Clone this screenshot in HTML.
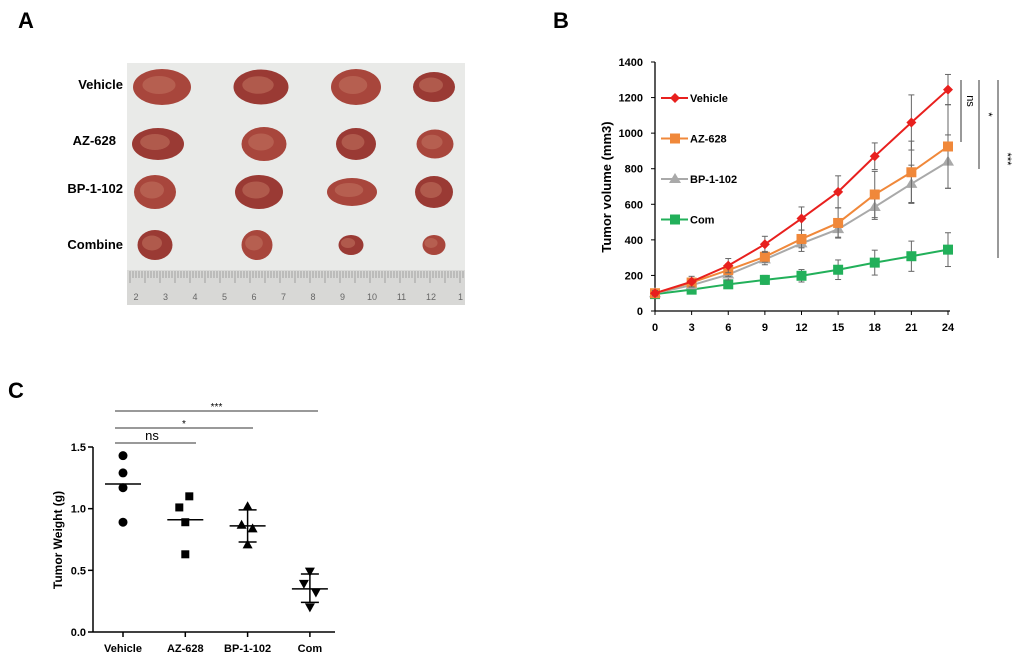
<!DOCTYPE html>
<html><head><meta charset="utf-8"><style>
body{margin:0;background:#fff;width:1020px;height:661px;overflow:hidden;font-family:"Liberation Sans",Arial,sans-serif}
svg{position:absolute;left:0;top:0}
</style></head><body>
<svg width="1020" height="661" viewBox="0 0 1020 661" id="fig">
<text x="18" y="28" font-size="22" font-weight="bold">A</text>
<text x="553" y="28" font-size="22" font-weight="bold">B</text>
<text x="8" y="398" font-size="22" font-weight="bold">C</text>
<g>
<rect x="127" y="63" width="338" height="242" fill="#e9eae8"/>
<rect x="127" y="270" width="338" height="35" fill="#d8d8d6"/>
<g id="ruler" stroke="#888" stroke-width="0.7"></g>
<g id="tumors"></g>
</g>
<g font-size="13" font-weight="bold" text-anchor="end">
<text x="123" y="89">Vehicle</text><text x="116" y="145">AZ-628</text><text x="123" y="193">BP-1-102</text><text x="123" y="249">Combine</text>
</g>
<g id="chartB"></g>
<g id="chartC"></g>
</svg>
<script>
const NS="http://www.w3.org/2000/svg";
function mk(p,t,a,txt){const e=document.createElementNS(NS,t);for(const k in a)e.setAttribute(k,a[k]);if(txt!==undefined)e.textContent=txt;p.appendChild(e);return e;}
// photo
const tumorX=[[162,261,356,434],[158,264,356,435],[155,259,352,434],[155,257,351,434]];
const tumorY=[87,144,192,245];
const tumorW=[[58,55,50,42],[52,45,40,37],[42,48,50,38],[35,31,25,23]];
const tumorH=[[36,35,36,30],[32,34,32,29],[34,34,28,32],[30,30,20,20]];
const tg=document.getElementById('tumors');
for(let r=0;r<4;r++)for(let c=0;c<4;c++){
 const e=mk(tg,'ellipse',{cx:tumorX[r][c],cy:tumorY[r],rx:tumorW[r][c]/2,ry:tumorH[r][c]/2,fill:(r+c)%2?'#9a3a34':'#a8463c'});
 
 mk(tg,'ellipse',{cx:tumorX[r][c]-3,cy:tumorY[r]-2,rx:tumorW[r][c]/3.5,ry:tumorH[r][c]/4,fill:'#c0705e',opacity:0.6});
}
const rg=document.getElementById('ruler');
for(let i=0;i<112;i++){const x=130+i*3;mk(rg,'line',{x1:x,y1:271,x2:x,y2:i%5==0?283:278});}
const rulerNums=[2,3,4,5,6,7,8,9,10,11,12,1];
rulerNums.forEach((n,i)=>{const t=mk(rg,'text',{x:136+i*29.5,y:300,'font-size':9,fill:'#666',stroke:'none','text-anchor':'middle'},n);});

// Chart B
const days=[0,3,6,9,12,15,18,21,24];
const vehicle=[100,165,255,375,520,670,870,1060,1245];
const az628=[100,160,230,305,405,495,655,780,925];
const bp1102=[100,145,205,290,380,460,585,715,840];
const com=[95,120,150,175,198,232,272,308,345];
const vehicleErr=[15,30,40,45,65,90,75,155,85];
const az628Err=[12,25,35,30,50,85,130,175,235];
const bp1102Err=[10,20,30,30,45,45,70,105,150];
const comErr=[8,10,15,25,35,55,70,85,95];
const yTicksB=[0,200,400,600,800,1000,1200,1400];
const B=document.getElementById('chartB');
const bx=v=>655+v/24*293, by=v=>311-v/1400*249;
mk(B,'line',{x1:655,y1:62,x2:655,y2:311,stroke:'#000','stroke-width':1.3});
mk(B,'line',{x1:655,y1:311,x2:950,y2:311,stroke:'#000','stroke-width':1.3});
yTicksB.forEach(v=>{mk(B,'line',{x1:651,y1:by(v),x2:655,y2:by(v),stroke:'#000'});
 const t=mk(B,'text',{x:643,y:by(v)+4,'font-size':11,'font-weight':'bold','text-anchor':'end'},v);});
days.forEach(d=>{mk(B,'line',{x1:bx(d),y1:311,x2:bx(d),y2:315,stroke:'#000'});
 const t=mk(B,'text',{x:bx(d),y:331,'font-size':11,'font-weight':'bold','text-anchor':'middle'},d);});
const yt=mk(B,'text',{x:611,y:187,'font-size':13,'font-weight':'bold','text-anchor':'middle',transform:'rotate(-90 611 187)'},'Tumor volume (mm3)');

const series=[[com,comErr,'#22b05a','sq'],[bp1102,bp1102Err,'#a9a9a9','tri'],[az628,az628Err,'#f0883a','sq'],[vehicle,vehicleErr,'#e8201e','dia']];
series.forEach(([vals,errs,col,shape])=>{
 vals.forEach((v,i)=>{const x=bx(days[i]);mk(B,'line',{x1:x,y1:by(v-errs[i]),x2:x,y2:by(v+errs[i]),stroke:'#666'});
  mk(B,'line',{x1:x-3,y1:by(v+errs[i]),x2:x+3,y2:by(v+errs[i]),stroke:'#666'});mk(B,'line',{x1:x-3,y1:by(v-errs[i]),x2:x+3,y2:by(v-errs[i]),stroke:'#666'});});
 const pl=mk(B,'polyline',{points:vals.map((v,i)=>bx(days[i])+','+by(v)).join(' '),fill:'none',stroke:col,'stroke-width':2});
 
 vals.forEach((v,i)=>{const x=bx(days[i]),y=by(v);let m;
  if(shape=='sq')m=mk(B,'rect',{x:x-5,y:y-5,width:10,height:10,fill:col});
  else if(shape=='tri')m=mk(B,'polygon',{points:`${x},${y-6} ${x-6},${y+4} ${x+6},${y+4}`,fill:col});
  else m=mk(B,'polygon',{points:`${x},${y-5} ${x+5},${y} ${x},${y+5} ${x-5},${y}`,fill:col});
  });
});
const legNames=['Vehicle','AZ-628','BP-1-102','Com'],legCols=['#e8201e','#f0883a','#a9a9a9','#22b05a'],legShapes=['dia','sq','tri','sq'];
legNames.forEach((n,i)=>{const y=98+i*40.5,g=mk(B,'g',{});
 mk(g,'line',{x1:661,y1:y,x2:688,y2:y,stroke:legCols[i],'stroke-width':2});const x=675;
 if(legShapes[i]=='sq')mk(g,'rect',{x:x-5,y:y-5,width:10,height:10,fill:legCols[i]});
 else if(legShapes[i]=='tri')mk(g,'polygon',{points:`${x},${y-6} ${x-6},${y+4} ${x+6},${y+4}`,fill:legCols[i]});
 else mk(g,'polygon',{points:`${x},${y-5} ${x+5},${y} ${x},${y+5} ${x-5},${y}`,fill:legCols[i]});
 mk(g,'text',{x:690,y:y+4,'font-size':11,'font-weight':'bold'},n);});
[[961,80,142,'ns'],[979,80,169,'*'],[998,80,258,'***']].forEach(([x,y1,y2,s])=>{mk(B,'line',{x1:x,y1:y1,x2:x,y2:y2,stroke:'#333'});
 const t=mk(B,'text',{x:x+6,y:(y1+y2)/2-10,'font-size':11,transform:`rotate(90 ${x+6} ${(y1+y2)/2-10})`,'text-anchor':'middle'},s);});

// Chart C
const groups=['Vehicle','AZ-628','BP-1-102','Com'];
const weightsVehicle=[1.43,1.29,1.17,0.89];
const weightsAZ=[1.10,1.01,0.89,0.63];
const weightsBP=[1.02,0.87,0.84,0.71];
const weightsCom=[0.49,0.39,0.32,0.20];
const meanW=[1.20,0.91,0.86,0.35];
const sdHi=[null,null,0.99,0.47];
const sdLo=[null,null,0.73,0.24];
const yTicksC=[0.0,0.5,1.0,1.5];
const C=document.getElementById('chartC');
const cx=i=>123+i*62.3, cy=v=>632-v/1.5*185;
mk(C,'line',{x1:93,y1:447,x2:93,y2:632,stroke:'#000','stroke-width':1.5});
mk(C,'line',{x1:93,y1:632,x2:335,y2:632,stroke:'#000','stroke-width':1.5});
yTicksC.forEach(v=>{mk(C,'line',{x1:88,y1:cy(v),x2:93,y2:cy(v),stroke:'#000','stroke-width':1.5});
 const t=mk(C,'text',{x:86,y:cy(v)+4,'font-size':11,'font-weight':'bold','text-anchor':'end'},v.toFixed(1));});
groups.forEach((g,i)=>{mk(C,'line',{x1:cx(i),y1:632,x2:cx(i),y2:637,stroke:'#000','stroke-width':1.5});
 const t=mk(C,'text',{x:cx(i),y:652,'font-size':11,'font-weight':'bold','text-anchor':'middle'},g);});
const ytc=mk(C,'text',{x:62,y:540,'font-size':12,'font-weight':'bold','text-anchor':'middle',transform:'rotate(-90 62 540)'},'Tumor Weight (g)');

[weightsVehicle,weightsAZ,weightsBP,weightsCom].forEach((arr,i)=>{
 arr.forEach((v,j)=>{const x=cx(i)+(i==0?0:(i==1?[4,-6,0,0][j]:(i==2?[0,-6,5,0][j]:[0,-6,6,0][j]))),y=cy(v);let m;
  if(i==0)m=mk(C,'circle',{cx:x,cy:y,r:4.5});
  else if(i==1)m=mk(C,'rect',{x:x-4,y:y-4,width:8,height:8});
  else if(i==2)m=mk(C,'polygon',{points:`${x},${y-5} ${x-5},${y+4} ${x+5},${y+4}`});
  else m=mk(C,'polygon',{points:`${x},${y+5} ${x-5},${y-4} ${x+5},${y-4}`});
  });
 const ml=mk(C,'line',{x1:cx(i)-18,y1:cy(meanW[i]),x2:cx(i)+18,y2:cy(meanW[i]),stroke:'#000','stroke-width':1.5});
 
 if(sdHi[i]!==null){mk(C,'line',{x1:cx(i),y1:cy(sdHi[i]),x2:cx(i),y2:cy(sdLo[i]),stroke:'#000','stroke-width':1.5});
  [sdHi[i],sdLo[i]].forEach(v=>mk(C,'line',{x1:cx(i)-9,y1:cy(v),x2:cx(i)+9,y2:cy(v),stroke:'#000','stroke-width':1.5}));}
});
[[411,318,'***'],[428,253,'*'],[443,196,'ns']].forEach(([y,x2,s])=>{mk(C,'line',{x1:115,y1:y,x2:x2,y2:y,stroke:'#333'});
 const t=mk(C,'text',{x:s=='ns'?152:(115+x2)/2,y:s=='ns'?y-3:y-1,'font-size':s=='ns'?13:10,'text-anchor':'middle'},s);});
</script>
</body></html>
